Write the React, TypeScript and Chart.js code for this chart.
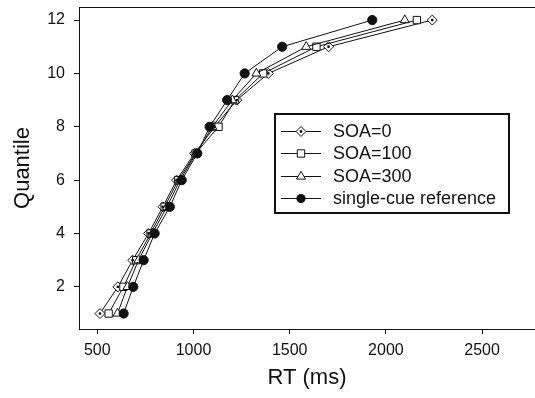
import React, { useEffect, useRef } from "react";
import { Chart, registerables } from "chart.js";

Chart.register(...registerables);

const quantiles = [1, 2, 3, 4, 5, 6, 7, 8, 9, 10, 11, 12];
const soa0 = [514, 607, 684, 766, 841, 912, 1005, 1110, 1225, 1389, 1702, 2241];
const soa100 = [559, 636, 702, 777, 850, 921, 1011, 1130, 1216, 1362, 1639, 2161];
const soa300 = [605, 657, 714, 786, 862, 930, 1014, 1098, 1202, 1327, 1586, 2098];
const singleCue = [637, 687, 741, 798, 877, 939, 1020, 1084, 1175, 1266, 1461, 1929];
const seriesLabels = ["SOA=0", "SOA=100", "SOA=300", "single-cue reference"];
const markerKinds = ["diamondDot", "square", "triangle", "disc"];
const xTicks = [500, 1000, 1500, 2000, 2500];
const yTicks = [2, 4, 6, 8, 10, 12];

const INK = "#111111";
const FONT = "'Liberation Sans', Arial, sans-serif";

const styleOf: Record<string, { pointStyle: string; radius: number; fill: string }> = {
  diamondDot: { pointStyle: "rectRot", radius: 5, fill: "#ffffff" },
  square: { pointStyle: "rect", radius: 5.2, fill: "#ffffff" },
  triangle: { pointStyle: "triangle", radius: 5.2, fill: "#ffffff" },
  disc: { pointStyle: "circle", radius: 4.6, fill: INK },
};

function drawMarker(ctx: CanvasRenderingContext2D, kind: string, x: number, y: number) {
  ctx.save();
  ctx.lineWidth = 1;
  ctx.strokeStyle = INK;
  ctx.fillStyle = "#fff";
  ctx.beginPath();
  if (kind === "diamondDot") {
    const r = 5;
    ctx.moveTo(x, y - r);
    ctx.lineTo(x + r, y);
    ctx.lineTo(x, y + r);
    ctx.lineTo(x - r, y);
    ctx.closePath();
    ctx.fill();
    ctx.stroke();
    ctx.beginPath();
    ctx.fillStyle = INK;
    ctx.arc(x, y, 1.4, 0, Math.PI * 2);
    ctx.fill();
  } else if (kind === "square") {
    const h = 3.7;
    ctx.rect(x - h, y - h, 2 * h, 2 * h);
    ctx.fill();
    ctx.stroke();
  } else if (kind === "triangle") {
    const r = 5.2;
    ctx.moveTo(x, y - r);
    ctx.lineTo(x + r * 0.866, y + r * 0.5);
    ctx.lineTo(x - r * 0.866, y + r * 0.5);
    ctx.closePath();
    ctx.fill();
    ctx.stroke();
  } else {
    ctx.fillStyle = INK;
    ctx.arc(x, y, 4.6, 0, Math.PI * 2);
    ctx.fill();
  }
  ctx.restore();
}

const framePlugin = {
  id: "topFrame",
  afterDraw(chart: any) {
    const { ctx, chartArea } = chart;
    ctx.save();
    ctx.strokeStyle = INK;
    ctx.lineWidth = 1;
    ctx.beginPath();
    ctx.moveTo(chartArea.left, chartArea.top + 0.5);
    ctx.lineTo(chartArea.right, chartArea.top + 0.5);
    ctx.stroke();
    ctx.restore();
  },
};

const diamondDotPlugin = {
  id: "diamondDot",
  afterDatasetsDraw(chart: any) {
    const ctx = chart.ctx as CanvasRenderingContext2D;
    chart.data.datasets.forEach((ds: any, i: number) => {
      if (markerKinds[i] !== "diamondDot") return;
      const meta = chart.getDatasetMeta(i);
      ctx.save();
      ctx.fillStyle = INK;
      meta.data.forEach((pt: any) => {
        ctx.beginPath();
        ctx.arc(pt.x, pt.y, 1.4, 0, Math.PI * 2);
        ctx.fill();
      });
      ctx.restore();
    });
  },
};

const legendPlugin = {
  id: "boxLegend",
  afterDraw(chart: any) {
    const ctx = chart.ctx as CanvasRenderingContext2D;
    const bx = 275, by = 114, bw = 234, bh = 99;
    ctx.save();
    ctx.fillStyle = "#fff";
    ctx.fillRect(bx, by, bw, bh);
    ctx.lineWidth = 2;
    ctx.strokeStyle = INK;
    ctx.strokeRect(bx, by, bw, bh);
    ctx.font = `18px ${FONT}`;
    ctx.textBaseline = "middle";
    chart.data.datasets.forEach((ds: any, i: number) => {
      const y = Math.round(131 + i * 22.4) + 0.5;
      ctx.strokeStyle = INK;
      ctx.lineWidth = 1;
      ctx.beginPath();
      ctx.moveTo(281, y);
      ctx.lineTo(321, y);
      ctx.stroke();
      drawMarker(ctx, markerKinds[i], 301, y);
      ctx.fillStyle = INK;
      ctx.fillText(ds.label, 333, y + 1);
    });
    ctx.restore();
  },
};

export default function App() {
  const ref = useRef<HTMLCanvasElement | null>(null);

  useEffect(() => {
    document.body.style.margin = "0";
    const canvas = ref.current;
    if (!canvas) return;
    const seriesValues = [soa0, soa100, soa300, singleCue];
    const datasets = seriesValues.map((vals, i) => {
      const st = styleOf[markerKinds[i]];
      return {
        label: seriesLabels[i],
        data: vals.map((v, k) => ({ x: v, y: quantiles[k] })),
        borderColor: INK,
        borderWidth: 1,
        backgroundColor: st.fill,
        pointStyle: st.pointStyle,
        pointRadius: st.radius,
        pointHoverRadius: st.radius,
        pointBackgroundColor: st.fill,
        pointBorderColor: INK,
        pointBorderWidth: 1,
        tension: 0,
        fill: false,
        clip: false,
        order: i === 3 ? 0 : 4 - i,
      };
    });

    const chart = new Chart(canvas, {
      type: "line",
      data: { datasets },
      plugins: [framePlugin, diamondDotPlugin, legendPlugin],
      options: {
        responsive: false,
        animation: false,
        devicePixelRatio: 1,
        layout: { autoPadding: false, padding: { top: 7, left: 0, right: 0, bottom: 0 } },
        plugins: { legend: { display: false }, tooltip: { enabled: false } },
        scales: {
          x: {
            type: "linear",
            min: 405,
            max: 2775,
            afterFit: (s: any) => { s.height = 69; s.paddingLeft = 0; s.paddingRight = 0; },
            afterBuildTicks: (s: any) => { s.ticks = xTicks.map((v) => ({ value: v })); },
            grid: { display: true, drawOnChartArea: false, drawTicks: true, tickLength: 5, color: INK },
            border: { display: true, color: INK, width: 1 },
            ticks: { color: INK, font: { family: FONT, size: 16 }, padding: 7, maxRotation: 0, callback: (v: any) => String(v) },
            title: { display: true, text: "RT (ms)", color: INK, font: { family: FONT, size: 22 }, padding: { top: 0, bottom: 7 } },
          },
          y: {
            type: "linear",
            min: 0.42,
            max: 12.49,
            afterFit: (s: any) => { s.width = 79; s.paddingTop = 0; s.paddingBottom = 0; },
            afterBuildTicks: (s: any) => { s.ticks = yTicks.map((v) => ({ value: v })); },
            grid: { display: true, drawOnChartArea: false, drawTicks: true, tickLength: 5, color: INK },
            border: { display: true, color: INK, width: 1 },
            ticks: { color: INK, font: { family: FONT, size: 16 }, padding: 9, callback: (v: any) => String(v) },
            title: { display: true, text: "Quantile", color: INK, font: { family: FONT, size: 22 }, padding: { top: 10, bottom: 0 } },
          },
        },
      },
    });
    return () => chart.destroy();
  }, []);

  return <canvas ref={ref} width={535} height={398} style={{ display: "block" }} />;
}
